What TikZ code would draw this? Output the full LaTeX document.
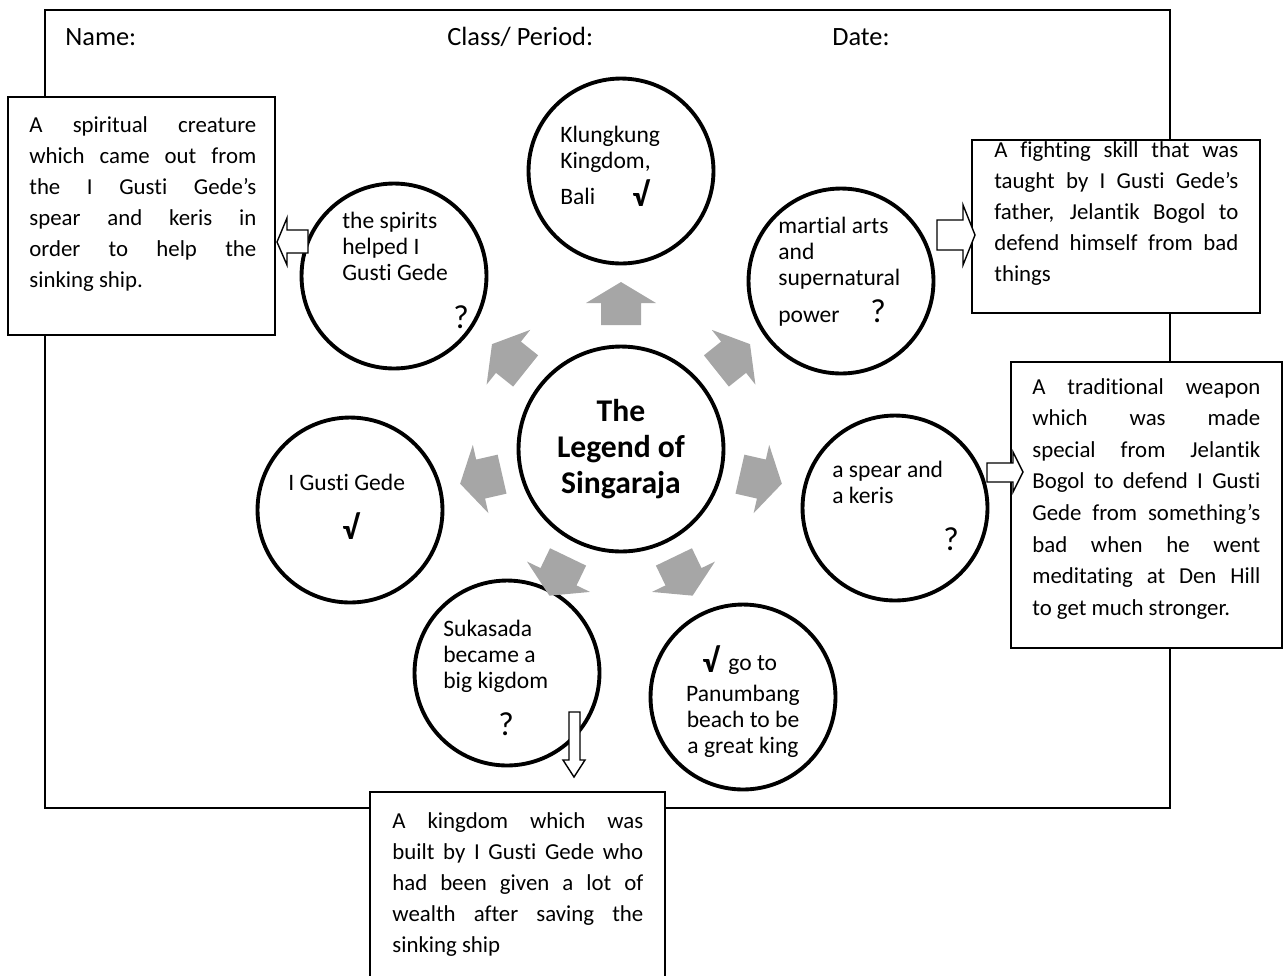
\documentclass[tikz,border=0pt]{standalone}
\usepackage{fontspec}
\setmainfont[Ligatures=NoCommon]{Carlito}
\usepackage{xcolor}
\usetikzlibrary{positioning}
\definecolor{spokegray}{HTML}{A6A6A6}

\begin{document}
\begin{tikzpicture}[x=0.02cm, y=-0.02cm,
  every node/.style={inner sep=0pt, font=\fontsize{13.4}{14.7}\selectfont},
  frame/.style={draw, line width=1pt},
  bubble/.style={circle, draw, line width=2.2pt, fill=white, minimum size=3.7cm},
  hub/.style={bubble, minimum size=4.1cm, align=center, font=\fontsize{18}{20.3}\selectfont\bfseries},
  txt/.style={anchor=base west, align=left},
  head/.style={anchor=base west, font=\fontsize{15}{17}\selectfont},
  tick/.style={anchor=base west, font=\fontsize{19}{20}\selectfont},
  check/.style={tick, font=\fontsize{19}{20}\selectfont\bfseries},
  notebox/.style={draw, line width=1pt, fill=white},
  notetxt/.style={anchor=base west, align=justify, font=\fontsize{13}{17.7}\selectfont},
  spoke/.style={fill=spokegray},
  pointer/.style={draw, line width=0.8pt, fill=white}]
  \useasboundingbox (0,0) rectangle (1287,975);

  % worksheet frame and heading
  \draw[frame] (45,10) rectangle (1170,808);
  \node[head] (name) at (65,45) {Name:};
  \node[head] (period) at (447,45) {Class/ Period:};
  \node[head] (date) at (832,45) {Date:};

  % note boxes
  \draw[notebox] (8,97) rectangle (275,335);
  \node[notetxt, text width=4.54cm] (spiritnote) at (29,132)
    {A spiritual creature\linebreak which came out from\linebreak the I Gusti Gede’s\linebreak
     spear and keris in\linebreak order to help the\linebreak sinking ship.};
  \draw[notebox] (972,140) rectangle (1260,313);
  \node[notetxt, text width=4.88cm] (martialnote) at (994,157)
    {A fighting skill that was\linebreak taught by I Gusti Gede’s\linebreak father, Jelantik Bogol to\linebreak
     defend himself from bad\linebreak things};
  \draw[notebox] (1011,362) rectangle (1282,648);
  \node[notetxt, text width=4.56cm, font=\fontsize{13}{18}\selectfont] (weaponnote) at (1032,394)
    {A traditional weapon\linebreak which was made\linebreak special from Jelantik\linebreak
     Bogol to defend I Gusti\linebreak Gede from something’s\linebreak bad when he went\linebreak
     meditating at Den Hill\linebreak to get much stronger.};
  \draw[notebox] (370,792) rectangle (665,990);
  \node[notetxt, text width=5.02cm] (kingdomnote) at (392,828)
    {A kingdom which was\linebreak built by I Gusti Gede who\linebreak had been given a lot of\linebreak
     wealth after saving the\linebreak sinking ship};

  % circles
  \node[hub] (legend) at (621,449) {The\\Legend of\\Singaraja};
  \node[bubble] (klungkung) at (621,171) {};
  \node[bubble] (spirits) at (394,276) {};
  \node[bubble] (martial) at (841,281) {};
  \node[bubble] (gusti) at (350,510) {};
  \node[bubble] (spear) at (895,508) {};
  \node[bubble] (sukasada) at (507,673) {};
  \node[bubble] (panumbang) at (743,697) {};

  % texts inside the circles (base = last line)
  \node[txt] (klungkungtxt) at (560,204) {Klungkung\\Kingdom,\\[5.7pt]Bali};
  \node[check] (klungkungmark) at (632,206) {√};
  \node[txt] (spiritstxt) at (342,280) {the spirits\\helped I\\Gusti Gede};
  \node[tick] (spiritsmark) at (453,328) {?};
  \node[txt] (martialtxt) at (778,322) {martial arts\\and\\supernatural\\[6pt]power};
  \node[tick] (martialmark) at (870,322) {?};
  \node[txt] (gustitxt) at (288,490) {I Gusti Gede};
  \node[check] (gustimark) at (342,539) {√};
  \node[txt] (speartxt) at (832,503) {a spear and\\a keris};
  \node[tick] (spearmark) at (943,550) {?};
  \node[txt] (sukasadatxt) at (443,688) {Sukasada\\became a\\big kigdom};
  \node[tick] (sukasadamark) at (498,735) {?};
  \node[check] (panumbangmark) at (702,672) {√};
  \node[txt] (panumbanggo) at (728,670) {go to};
  \node[anchor=base, align=center] (panumbangtxt) at (743,753) {Panumbang\\beach to be\\a great king};

  % grey spokes round the hub
  \foreach \k in {0,...,6}
    \fill[spoke, shift={(621,447)}, rotate=90-\k*51.4286]
      (122,-20) -- (144,-20) -- (144,-35) -- (165,0) -- (144,35) -- (144,20) -- (122,20) -- cycle;

  % hollow pointers to the notes
  \draw[pointer] (308,230) -- (287,230) -- (287,218) -- (277,242) -- (287,265) -- (287,253) -- (308,253) -- cycle;
  \draw[pointer] (937,220) -- (963,220) -- (963,205) -- (975,235) -- (963,265) -- (963,250) -- (937,250) -- cycle;
  \draw[pointer] (987,463) -- (1013,463) -- (1013,452) -- (1023,472) -- (1013,492) -- (1013,482) -- (987,482) -- cycle;
  \draw[pointer] (569,712) -- (569,760) -- (563,760) -- (574,777) -- (585,760) -- (580,760) -- (580,712) -- cycle;
\end{tikzpicture}
\end{document}
